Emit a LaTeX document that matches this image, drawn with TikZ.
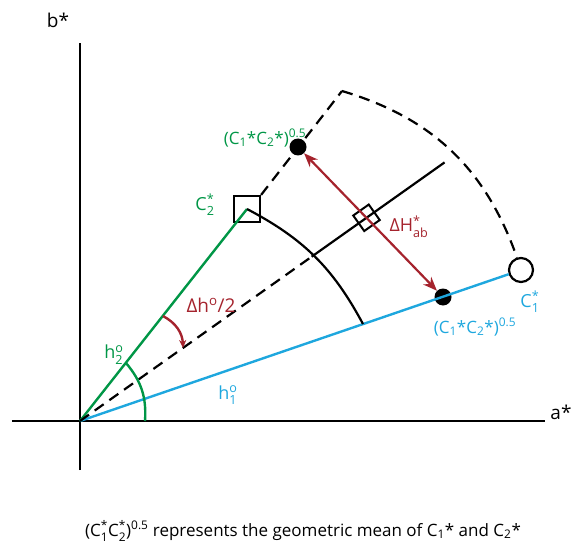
\documentclass[tikz,border=0pt]{standalone}
\usepackage{amsmath}
\usepackage{fontspec}
\setmainfont{Open Sans}
\usepackage{tikz}
\usetikzlibrary{arrows.meta}
\definecolor{hgreen}{RGB}{0,150,70}
\definecolor{hblue}{RGB}{30,167,222}
\definecolor{hred}{RGB}{165,35,45}
\newcommand{\sbsp}[2]{$_{\text{#1}}^{\text{#2}}$}
\newcommand{\gmean}{(C\textsubscript{1}*C\textsubscript{2}*)\textsuperscript{0.5}}
\tikzset{
  axisline/.style = {line width=2.6pt,black},
  chroma/.style   = {line width=2.4pt},
  guide/.style    = {line width=2.2pt,dash pattern=on 11pt off 7pt},
  solidarc/.style = {line width=2.2pt},
  dharr/.style    = {{Stealth[length=14pt,width=11pt]}-{Stealth[length=14pt,width=11pt]},line width=2.2pt,hred},
  anglearr/.style = {-{Stealth[length=8pt,width=7pt]},line width=2.4pt,hred},
  gdot/.style     = {circle,fill=black,inner sep=0pt,minimum size=17pt},
  lbl/.style      = {inner sep=1pt,font=\fontsize{19}{22}\selectfont},
  sclbl/.style    = {inner sep=1pt,font=\fontsize{18}{21}\selectfont},
  gmlbl/.style    = {inner sep=1pt,font=\fontsize{17}{20}\selectfont}
}

\begin{document}
\begin{tikzpicture}[x=1pt,y=1pt]
  \useasboundingbox (-80,-131) rectangle (497,421);
  \coordinate (O)  at (0,0);
  \coordinate (xa) at (-68,0);
  \coordinate (xb) at (465,0);
  \coordinate (ya) at (0,-49);
  \coordinate (yb) at (0,378);
  \coordinate (C2) at (167,212);
  \coordinate (A1) at (283,97);
  \coordinate (Oc) at (262,330);
  \coordinate (M1) at (35.35:284);
  \coordinate (M2) at (35.35:447);
  \coordinate (h1) at (65,0);
  \coordinate (h2) at (46,58);
  \coordinate (d1) at (83,105);
  \coordinate (d2) at (103,73);
  % axes
  \draw[axisline] (xa) -- (xb);
  \draw[axisline] (ya) -- (yb);
  \node[lbl] (bstar) at (-22,401) {b*};
  \node[lbl] (astar) at (481,9) {a*};
  % chroma points
  \node[circle,draw=black,fill=white,line width=2.2pt,inner sep=0pt,minimum size=24pt] (C1) at (441,151) {};
  \node[draw=black,line width=2.2pt,inner sep=0pt,minimum size=26pt] (sqC2) at (C2) {};
  \node[gdot] (G1) at (363,124) {};
  \node[gdot] (G2) at (218,274) {};
  % hue lines
  \draw[chroma,hblue] (O) -- (C1);
  \draw[chroma,hgreen] (O) -- (C2);
  \draw[guide] (O) -- (M1);
  \draw[solidarc] (M1) -- (M2);
  \draw[solidarc] (C2) to[bend left=17] (A1);
  \draw[guide] (sqC2.north east) -- (Oc);
  \draw[guide] (Oc) to[bend left=27] (C1);
  \node[draw=black,line width=2pt,inner sep=0pt,minimum size=19pt,rotate=35.35] (perp)
    at (intersection of G1--G2 and O--M2) {};
  \draw[dharr] (G1) -- (G2);
  % angles
  \draw[chroma,hgreen] (h1) to[bend right=22] (h2);
  \draw[anglearr] (d1) to[bend left=30] (d2);
  % labels
  \node[sclbl,hgreen] (lC2) at (125,216) {C\sbsp{2}{*}};
  \node[gmlbl,hgreen] (lG2) at (185,283) {\gmean};
  \node[sclbl,hred] (ldH) at (329,194) {ΔH\sbsp{ab}{*}};
  \node[sclbl,hblue] (lC1) at (450,119) {C\sbsp{1}{*}};
  \node[gmlbl,hblue] (lG1) at (395,94) {\gmean};
  \node[lbl,hred] (ldh) at (131,116) {Δh\textsuperscript{o}/2};
  \node[sclbl,hgreen] (lh2) at (34,66) {h\sbsp{2}{o}};
  \node[sclbl,hblue] (lh1) at (148,26) {h\sbsp{1}{o}};
  \node[gmlbl] (cap) at (223,-110)
    {(C\sbsp{1}{*}C\sbsp{2}{*})\textsuperscript{0.5} represents the geometric mean of C\textsubscript{1}* and C\textsubscript{2}*};
\end{tikzpicture}
\end{document}
